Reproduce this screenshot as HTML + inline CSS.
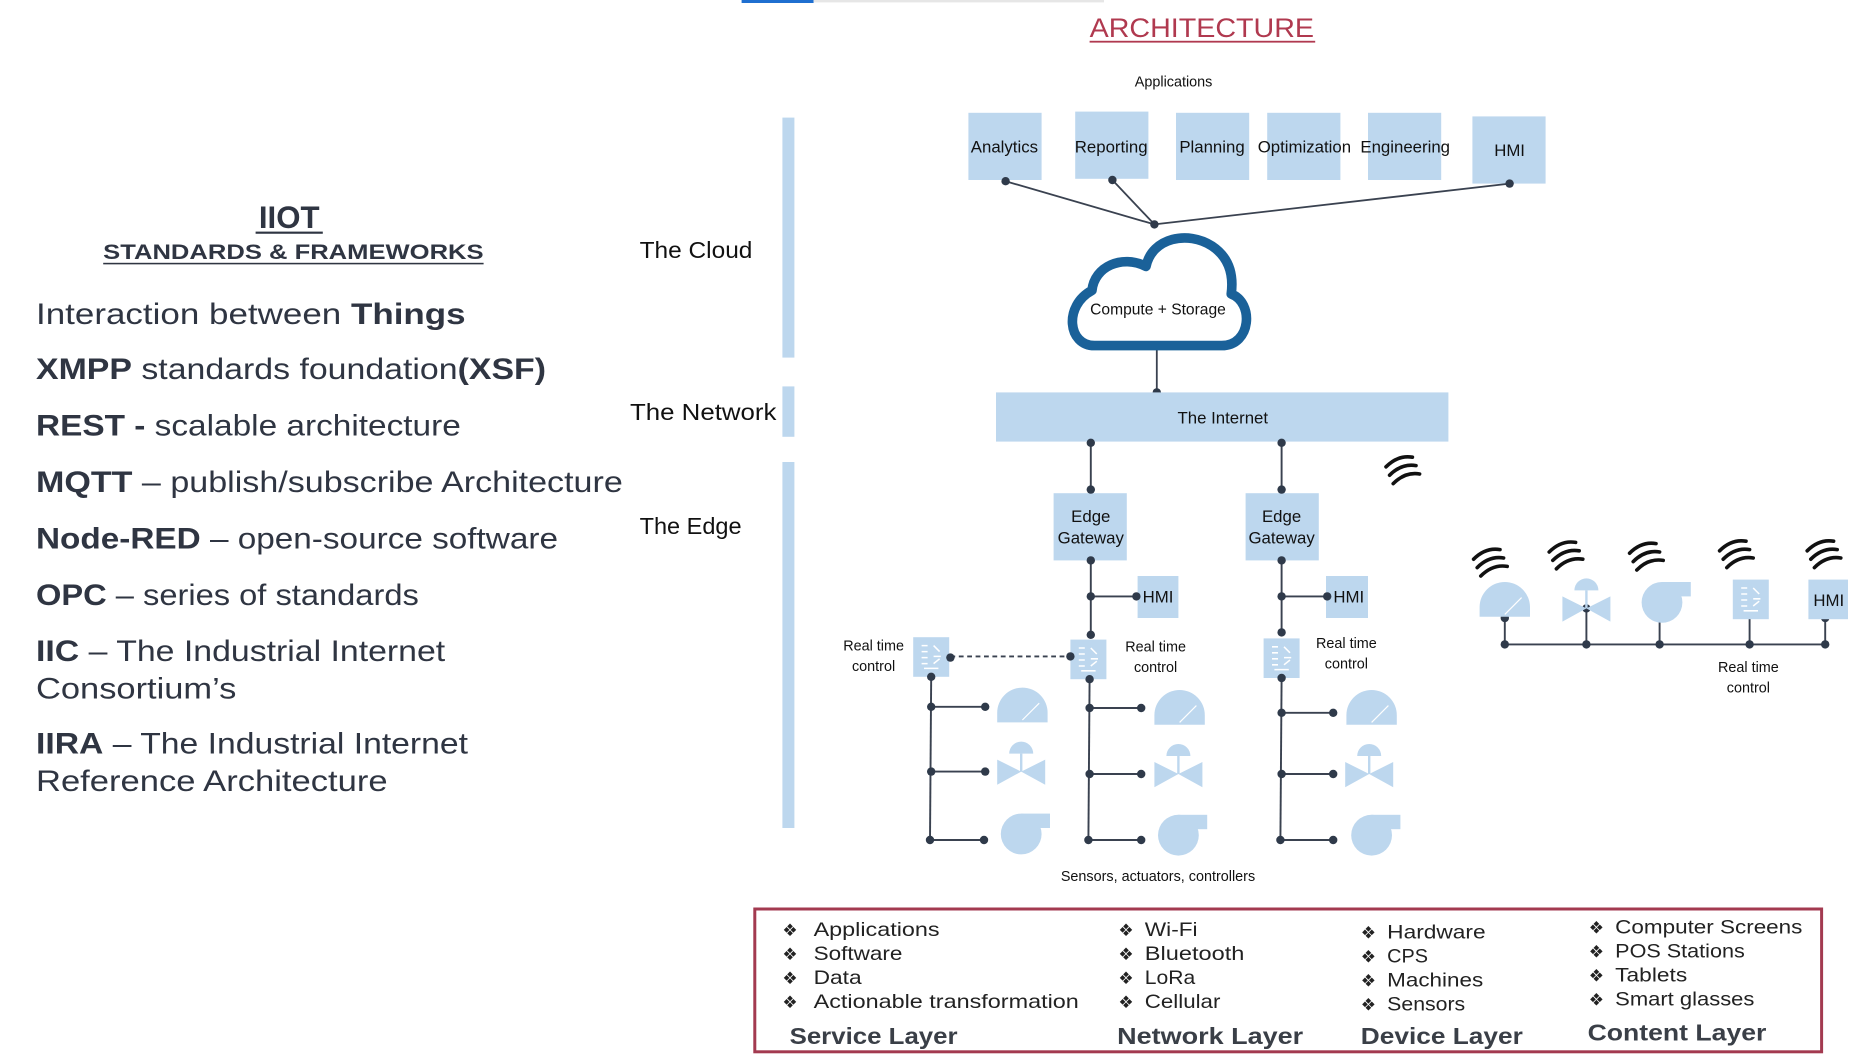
<!DOCTYPE html>
<html><head><meta charset="utf-8"><style>
html,body{margin:0;padding:0;background:#fff;}
svg{display:block;}
</style></head><body>
<svg width="1872" height="1059" viewBox="0 0 1560 882.5" xmlns="http://www.w3.org/2000/svg" font-family="Liberation Sans, sans-serif">
<defs>
  <g id="gauge"><path d="M-21,14 L-21,6 A21,21 0 0 1 21,6 L21,14 Z" fill="#bdd7ee"/><line x1="0" y1="12" x2="14" y2="-2" stroke="#fff" stroke-width="1"/></g>
  <g id="valve"><path d="M-10,-6 A10,10 0 0 1 10,-6 Z" fill="#bdd7ee"/><path d="M-20,-1 L0,9 L-20,20 Z M20,-1 L0,9 L20,20 Z" fill="#bdd7ee"/><line x1="0" y1="-6" x2="0" y2="9" stroke="#bdd7ee" stroke-width="2"/></g>
  <g id="pump"><circle cx="0" cy="4" r="17" fill="#bdd7ee"/><rect x="0" y="-13" width="24" height="12" fill="#bdd7ee"/></g>
  <g id="chip"><rect x="-15" y="-16" width="30" height="33" fill="#bdd7ee"/><path d="M-8,-9 h5 M-8,-4 h5 M-8,1 h5 M-8,6 h5 M2,-9 l5,5 M2,0 h6 M2,6 l5,-4 M-6,10 h12" stroke="#fff" stroke-width="1.3" fill="none"/></g>
  <g id="wifi" fill="none" stroke="#111" stroke-width="3" stroke-linecap="round"><path d="M-12,-2 Q-2,-12 10,-10"/><path d="M-9,5 Q1,-5 13,-3"/><path d="M-6,12 Q4,2 16,4"/></g>
</defs>

<rect x="618" y="0" width="60" height="2.5" fill="#1f6fd0"/>
<rect x="678" y="0" width="242" height="2" fill="#e6e6e6"/>

<text x="908" y="31" font-size="22" fill="#b0394f" textLength="187" lengthAdjust="spacingAndGlyphs">ARCHITECTURE</text>
<rect x="908" y="34" width="188" height="1.5" fill="#b0394f"/>

<g fill="#2f3542">
<text x="241" y="190" font-size="26" font-weight="bold" text-anchor="middle">IIOT</text>
<rect x="213" y="193" width="56" height="1.8"/>
<text x="86" y="216" font-size="18" font-weight="bold" textLength="317" lengthAdjust="spacingAndGlyphs">STANDARDS &amp; FRAMEWORKS</text>
<rect x="86" y="219" width="317" height="1.3"/>
<g font-size="25">
<text x="30" y="270" textLength="358" lengthAdjust="spacingAndGlyphs">Interaction between  <tspan font-weight="bold">Things</tspan></text>
<text x="30" y="316" textLength="425" lengthAdjust="spacingAndGlyphs"><tspan font-weight="bold">XMPP</tspan> standards foundation<tspan font-weight="bold">(XSF)</tspan></text>
<text x="30" y="363" textLength="354" lengthAdjust="spacingAndGlyphs"><tspan font-weight="bold">REST -</tspan> scalable architecture</text>
<text x="30" y="410" textLength="489" lengthAdjust="spacingAndGlyphs"><tspan font-weight="bold">MQTT</tspan> – publish/subscribe Architecture</text>
<text x="30" y="457" textLength="435" lengthAdjust="spacingAndGlyphs"><tspan font-weight="bold">Node-RED</tspan> – open-source software</text>
<text x="30" y="504" textLength="319" lengthAdjust="spacingAndGlyphs"><tspan font-weight="bold">OPC</tspan> – series of standards</text>
<text x="30" y="551" textLength="341" lengthAdjust="spacingAndGlyphs"><tspan font-weight="bold">IIC</tspan> – The Industrial Internet</text>
<text x="30" y="582" textLength="167" lengthAdjust="spacingAndGlyphs">Consortium’s</text>
<text x="30" y="628" textLength="360" lengthAdjust="spacingAndGlyphs"><tspan font-weight="bold">IIRA</tspan> – The Industrial Internet</text>
<text x="30" y="659" textLength="293" lengthAdjust="spacingAndGlyphs">Reference Architecture</text>
</g>
</g>

<g fill="#111" font-size="19">
<text x="533" y="215" textLength="94" lengthAdjust="spacingAndGlyphs">The Cloud</text>
<text x="525" y="350" textLength="122" lengthAdjust="spacingAndGlyphs">The Network</text>
<text x="533" y="445" textLength="85" lengthAdjust="spacingAndGlyphs">The Edge</text>
</g>
<rect x="652" y="98" width="10" height="200" fill="#bdd7ee"/>
<rect x="652" y="322" width="10" height="42" fill="#bdd7ee"/>
<rect x="652" y="385" width="10" height="305" fill="#bdd7ee"/>

<text x="978" y="72" font-size="12" text-anchor="middle" fill="#111">Applications</text>
<g fill="#bdd7ee">
<rect x="807" y="94" width="61" height="56"/>
<rect x="896" y="93" width="61" height="56"/>
<rect x="980" y="94" width="61" height="56"/>
<rect x="1056" y="94" width="61" height="56"/>
<rect x="1140" y="94" width="61" height="56"/>
<rect x="1227" y="97" width="61" height="56"/>
</g>
<g font-size="14" fill="#111" text-anchor="middle">
<text x="837" y="127">Analytics</text>
<text x="926" y="127">Reporting</text>
<text x="1010" y="127">Planning</text>
<text x="1087" y="127">Optimization</text>
<text x="1171" y="127">Engineering</text>
<text x="1258" y="130">HMI</text>
</g>
<g stroke="#3a4250" stroke-width="1.5" fill="none">
<line x1="838" y1="151" x2="962" y2="187"/>
<line x1="927" y1="150" x2="962" y2="187"/>
<line x1="1258" y1="153" x2="962" y2="187"/>
<line x1="964" y1="288" x2="964" y2="327"/>
</g>
<g fill="#2f3a4a">
<circle cx="838" cy="151" r="3.5"/><circle cx="927" cy="150" r="3.5"/><circle cx="1258" cy="153" r="3.5"/><circle cx="962" cy="187" r="3.5"/>
<circle cx="964" cy="288" r="3.5"/><circle cx="964" cy="327" r="3.5"/>
</g>

<path d="M912,288 C890,288 886,255 910,242 C912,222 935,212 955,222 C960,198 990,192 1010,205 C1025,215 1028,230 1026,245 C1045,252 1043,288 1018,288 Z" fill="#fff" stroke="#1a6199" stroke-width="8" stroke-linejoin="round"/>
<text x="965" y="262" font-size="13" text-anchor="middle" fill="#111">Compute + Storage</text>

<rect x="830" y="327" width="377" height="41" fill="#bdd7ee"/>
<text x="1019" y="353" font-size="14" text-anchor="middle" fill="#111">The Internet</text>

<rect x="878" y="411" width="61" height="56" fill="#bdd7ee"/>
<rect x="1038" y="411" width="61" height="56" fill="#bdd7ee"/>
<g font-size="14" fill="#111" text-anchor="middle">
<text x="909" y="435">Edge</text><text x="909" y="453">Gateway</text>
<text x="1068" y="435">Edge</text><text x="1068" y="453">Gateway</text>
</g>
<rect x="948" y="480" width="34" height="35" fill="#bdd7ee"/>
<rect x="1105" y="480" width="35" height="35" fill="#bdd7ee"/>
<text x="965" y="502" font-size="14" text-anchor="middle" fill="#111">HMI</text>
<text x="1124" y="502" font-size="14" text-anchor="middle" fill="#111">HMI</text>

<use href="#chip" x="776" y="547"/>
<use href="#chip" x="907" y="549"/>
<use href="#chip" x="1068" y="548"/>

<g font-size="12" fill="#111" text-anchor="middle">
<text x="728" y="542">Real time</text><text x="728" y="559">control</text>
<text x="963" y="543">Real time</text><text x="963" y="560">control</text>
<text x="1122" y="540">Real time</text><text x="1122" y="557">control</text>
<text x="1457" y="560">Real time</text><text x="1457" y="577">control</text>
<text x="965" y="734">Sensors, actuators, controllers</text>
</g>

<g stroke="#3a4250" stroke-width="1.6" fill="none">
<line x1="909" y1="368" x2="909" y2="411"/>
<line x1="1068" y1="368" x2="1068" y2="411"/>
<line x1="909" y1="467" x2="909" y2="532"/>
<line x1="1068" y1="467" x2="1068" y2="530"/>
<line x1="909" y1="497" x2="948" y2="497"/>
<line x1="1068" y1="497" x2="1105" y2="497"/>
<line x1="792" y1="547" x2="892" y2="547" stroke-dasharray="4,3"/>
<line x1="776" y1="563" x2="775" y2="700"/>
<line x1="908" y1="565" x2="907" y2="700"/>
<line x1="1068" y1="565" x2="1067" y2="700"/>
<line x1="776" y1="589" x2="821" y2="589"/><line x1="776" y1="643" x2="821" y2="643"/><line x1="775" y1="700" x2="820" y2="700"/>
<line x1="908" y1="590" x2="951" y2="590"/><line x1="908" y1="645" x2="951" y2="645"/><line x1="907" y1="700" x2="951" y2="700"/>
<line x1="1068" y1="594" x2="1111" y2="594"/><line x1="1068" y1="645" x2="1111" y2="645"/><line x1="1067" y1="700" x2="1111" y2="700"/>
<line x1="1254" y1="537" x2="1521" y2="537"/>
<line x1="1254" y1="515" x2="1254" y2="537"/><line x1="1322" y1="507" x2="1322" y2="537"/><line x1="1383" y1="512" x2="1383" y2="537"/><line x1="1458" y1="512" x2="1458" y2="537"/><line x1="1521" y1="515" x2="1521" y2="537"/>
</g>
<g fill="#2f3a4a">
<circle cx="909" cy="369" r="3.5"/><circle cx="1068" cy="369" r="3.5"/>
<circle cx="909" cy="408" r="3.5"/><circle cx="1068" cy="408" r="3.5"/>
<circle cx="909" cy="467" r="3.5"/><circle cx="1068" cy="467" r="3.5"/>
<circle cx="909" cy="497" r="3.5"/><circle cx="947" cy="497" r="3.5"/>
<circle cx="1068" cy="497" r="3.5"/><circle cx="1106" cy="497" r="3.5"/>
<circle cx="909" cy="529" r="3.5"/><circle cx="1068" cy="527" r="3.5"/>
<circle cx="792" cy="548" r="3.5"/><circle cx="892" cy="547" r="3.5"/>
<circle cx="776" cy="564" r="3.5"/><circle cx="908" cy="566" r="3.5"/><circle cx="1068" cy="565" r="3.5"/>
<circle cx="776" cy="589" r="3.5"/><circle cx="821" cy="589" r="3.5"/><circle cx="776" cy="643" r="3.5"/><circle cx="821" cy="643" r="3.5"/><circle cx="775" cy="700" r="3.5"/><circle cx="820" cy="700" r="3.5"/>
<circle cx="908" cy="590" r="3.5"/><circle cx="951" cy="590" r="3.5"/><circle cx="908" cy="645" r="3.5"/><circle cx="951" cy="645" r="3.5"/><circle cx="907" cy="700" r="3.5"/><circle cx="951" cy="700" r="3.5"/>
<circle cx="1068" cy="594" r="3.5"/><circle cx="1111" cy="594" r="3.5"/><circle cx="1068" cy="645" r="3.5"/><circle cx="1111" cy="645" r="3.5"/><circle cx="1067" cy="700" r="3.5"/><circle cx="1111" cy="700" r="3.5"/>
<circle cx="1254" cy="515" r="3.5"/><circle cx="1322" cy="507" r="3.5"/><circle cx="1383" cy="512" r="3.5"/><circle cx="1458" cy="512" r="3.5"/><circle cx="1521" cy="515" r="3.5"/>
<circle cx="1254" cy="537" r="3.5"/><circle cx="1322" cy="537" r="3.5"/><circle cx="1383" cy="537" r="3.5"/><circle cx="1458" cy="537" r="3.5"/><circle cx="1521" cy="537" r="3.5"/>
</g>

<use href="#gauge" x="852" y="588"/>
<use href="#valve" x="851" y="634"/>
<use href="#pump" x="851" y="691"/>
<use href="#gauge" x="983" y="590"/>
<use href="#valve" x="982" y="636"/>
<use href="#pump" x="982" y="692"/>
<use href="#gauge" x="1143" y="590"/>
<use href="#valve" x="1141" y="636"/>
<use href="#pump" x="1143" y="692"/>

<use href="#gauge" x="1254" y="500"/>
<use href="#valve" x="1322" y="498"/>
<use href="#pump" x="1385" y="498"/>
<use href="#chip" x="1459" y="499"/>
<rect x="1507" y="483" width="33" height="33" fill="#bdd7ee"/>
<text x="1524" y="505" font-size="14" text-anchor="middle" fill="#111">HMI</text>

<use href="#wifi" x="1240" y="468"/>
<use href="#wifi" x="1303" y="462"/>
<use href="#wifi" x="1370" y="463"/>
<use href="#wifi" x="1445" y="461"/>
<use href="#wifi" x="1518" y="461"/>
<use href="#wifi" x="1167" y="391"/>

<rect x="629" y="757.5" width="889" height="119" fill="none" stroke="#a33a50" stroke-width="2.5"/>
<g font-size="14" fill="#222">
<text x="652" y="780">❖</text><text x="652" y="800">❖</text><text x="652" y="820">❖</text><text x="652" y="840">❖</text>
<text x="932" y="780">❖</text><text x="932" y="800">❖</text><text x="932" y="820">❖</text><text x="932" y="840">❖</text>
<text x="1134" y="782">❖</text><text x="1134" y="802">❖</text><text x="1134" y="822">❖</text><text x="1134" y="842">❖</text>
<text x="1324" y="778">❖</text><text x="1324" y="798">❖</text><text x="1324" y="818">❖</text><text x="1324" y="838">❖</text>
</g>
<g font-size="16" fill="#222" lengthAdjust="spacingAndGlyphs">
<text x="678" y="780" textLength="105" lengthAdjust="spacingAndGlyphs">Applications</text>
<text x="678" y="800" textLength="74" lengthAdjust="spacingAndGlyphs">Software</text>
<text x="678" y="820" textLength="40" lengthAdjust="spacingAndGlyphs">Data</text>
<text x="678" y="840" textLength="221" lengthAdjust="spacingAndGlyphs">Actionable transformation</text>
<text x="954" y="780" textLength="44" lengthAdjust="spacingAndGlyphs">Wi-Fi</text>
<text x="954" y="800" textLength="83" lengthAdjust="spacingAndGlyphs">Bluetooth</text>
<text x="954" y="820" textLength="42" lengthAdjust="spacingAndGlyphs">LoRa</text>
<text x="954" y="840" textLength="63" lengthAdjust="spacingAndGlyphs">Cellular</text>
<text x="1156" y="782" textLength="82" lengthAdjust="spacingAndGlyphs">Hardware</text>
<text x="1156" y="802" textLength="34" lengthAdjust="spacingAndGlyphs">CPS</text>
<text x="1156" y="822" textLength="80" lengthAdjust="spacingAndGlyphs">Machines</text>
<text x="1156" y="842" textLength="65" lengthAdjust="spacingAndGlyphs">Sensors</text>
<text x="1346" y="778" textLength="156" lengthAdjust="spacingAndGlyphs">Computer Screens</text>
<text x="1346" y="798" textLength="108" lengthAdjust="spacingAndGlyphs">POS Stations</text>
<text x="1346" y="818" textLength="60" lengthAdjust="spacingAndGlyphs">Tablets</text>
<text x="1346" y="838" textLength="116" lengthAdjust="spacingAndGlyphs">Smart glasses</text>
</g>
<g font-size="19" font-weight="bold" fill="#3a3f47">
<text x="658" y="870" textLength="140" lengthAdjust="spacingAndGlyphs">Service Layer</text>
<text x="931" y="870" textLength="155" lengthAdjust="spacingAndGlyphs">Network Layer</text>
<text x="1134" y="870" textLength="135" lengthAdjust="spacingAndGlyphs">Device Layer</text>
<text x="1323" y="867" textLength="149" lengthAdjust="spacingAndGlyphs">Content Layer</text>
</g>
</svg>
</body></html>
